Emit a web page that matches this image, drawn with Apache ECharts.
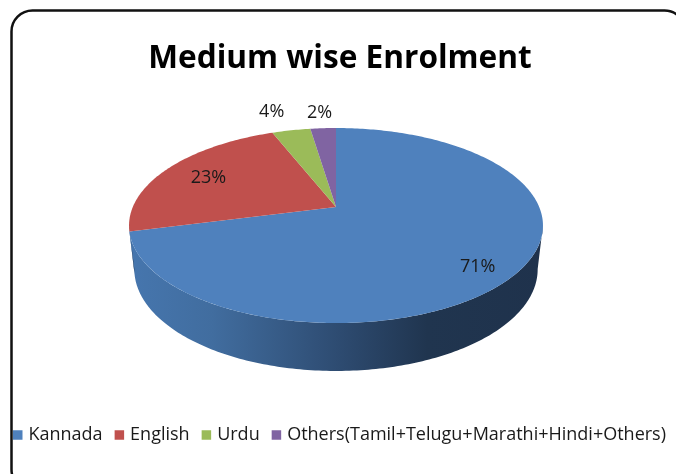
<!DOCTYPE html>
<html>
<head>
<meta charset="utf-8">
<style>
  html, body { margin: 0; padding: 0; background: #fff; }
  #main { width: 676px; height: 474px; }
</style>
<script src="https://cdn.jsdelivr.net/npm/echarts@6/dist/echarts.min.js"></script>
</head>
<body>
<div id="main"></div>
<script>
var titleText = 'Medium wise Enrolment'
var categories = ['Kannada', 'English', 'Urdu', 'Others(Tamil+Telugu+Marathi+Hindi+Others)']
var values = [71, 23, 3.6, 2.4]
var colors = ['#4f81bd', '#c0504d', '#9bbb59', '#8064a2']

// label placement, as a fraction of the radius, then a small shift in px
var labelRadius = [0.8, 0.75, 1.32, 1.25]
var labelNudge = [[0, 9], [0, 1], [-8, 1], [-1, 1]]

// perspective of the pie disc
var topRim = { x: 336, y: 207, a: 203.2, b: 94, k: 0.19 }
var lowRim = { x: 336, y: 250, a: 198, b: 98, k: 0.19 }

function project(rim, pct, r) {
  var t = pct / 100 * Math.PI * 2
  var u = Math.sin(t) * r
  var v = Math.cos(t) * r
  var d = 1 + rim.k * v
  return [rim.x + rim.a * u / d, rim.y - rim.b * v / d]
}

function rimPoints(rim, from, to) {
  var pts = []
  var n = Math.ceil(Math.abs(to - from) * 4) + 1
  for (var i = 0; i <= n; i++) {
    pts.push(project(rim, from + (to - from) * i / n, 1))
  }
  return pts
}

function makeRenderItem(index) {
  return function(params, api) {
    var start = api.value(0)
    var end = api.value(1)
    var children = []
    // side wall only shows on the front of the disc
    var wallFrom = Math.max(start, 28)
    var wallTo = Math.min(end, 72)
    if (wallTo > wallFrom) {
      var wall = rimPoints(topRim, wallFrom, wallTo).concat(rimPoints(lowRim, wallTo, wallFrom))
      children.push({
        type: 'polygon',
        shape: { points: wall },
        style: {
          fill: new echarts.graphic.LinearGradient(0, 0, 1, 0, [
            { offset: 0, color: '#4676ae' },
            { offset: 0.2, color: '#416d9f' },
            { offset: 0.5, color: '#2e4c72' },
            { offset: 0.72, color: '#20354f' },
            { offset: 1, color: '#1f324c' }
          ])
        }
      })
    }
    children.push({
      type: 'polygon',
      shape: { points: [[topRim.x, topRim.y]].concat(rimPoints(topRim, start, end)) },
      style: { fill: colors[index] }
    })
    var mid = project(topRim, (start + end) / 2, labelRadius[index])
    children.push({
      type: 'text',
      style: {
        x: mid[0] + labelNudge[index][0],
        y: mid[1] + labelNudge[index][1],
        text: Math.round(api.value(2)) + '%',
        fill: '#1a1a1a',
        font: '18px "Open Sans"',
        align: 'center',
        verticalAlign: 'middle'
      }
    })
    return { type: 'group', children: children }
  }
}

var series = []
var running = 0
for (var i = 0; i < categories.length; i++) {
  series.push({
    name: categories[i],
    type: 'custom',
    coordinateSystem: 'none',
    renderItem: makeRenderItem(i),
    itemStyle: { color: colors[i] },
    data: [[running, running + values[i], values[i]]]
  })
  running += values[i]
}

var chart = echarts.init(document.getElementById('main'))
chart.setOption({
  animation: false,
  title: {
    text: titleText,
    left: 335,
    top: 38,
    textAlign: 'center',
    textStyle: { fontFamily: 'Open Sans', fontSize: 31.6, fontWeight: 'bold', color: '#000' }
  },
  legend: {
    data: categories,
    left: 13,
    top: 426,
    padding: 0,
    icon: 'rect',
    itemWidth: 9.5,
    itemHeight: 9.5,
    itemGap: 12,
    textStyle: { fontFamily: 'Open Sans', fontSize: 18, color: '#1a1a1a', padding: [0, 0, 0, 1] }
  },
  graphic: [{
    type: 'rect',
    silent: true,
    z: -1,
    shape: { x: 11.5, y: 10.5, width: 674, height: 480, r: 21 },
    style: { fill: '#fff', stroke: '#111', lineWidth: 2.5 }
  }],
  series: series
})
</script>
</body>
</html>
